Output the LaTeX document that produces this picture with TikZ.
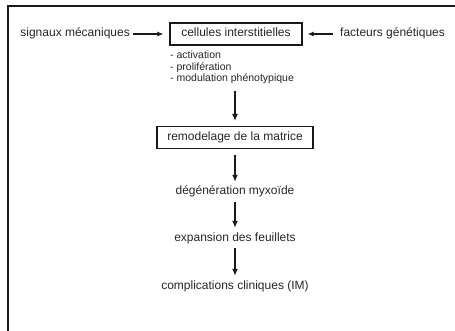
\documentclass[tikz,border=0pt]{standalone}
\usepackage{fontspec}
\setmainfont{Liberation Sans}
\usetikzlibrary{arrows.meta}
\begin{document}
\begin{tikzpicture}[x=1pt,y=-1pt,
  txt/.style={inner sep=0pt, font=\fontsize{12}{14}\selectfont, text=black!85, text height=9pt, text depth=3pt},
  boxed/.style={txt, draw=black!90, line width=1.2pt, minimum height=22pt},
  vflow/.style={-{Latex[length=7pt,width=6pt]}, line width=1.8pt, draw=black!90},
  hflow/.style={-{Latex[length=6pt,width=5pt]}, line width=1.1pt, draw=black!90}]
\useasboundingbox (0,0) rectangle (455,331);
\draw[line width=2.2pt, black!90] (8,332) -- (8,6) -- (456,6);

\node[boxed, minimum width=132pt] (cell) at (236,34) {cellules interstitielles};
\node[txt, anchor=east] (sig) at (130,34) {signaux mécaniques};
\node[txt, anchor=west] (fac) at (340,34) {facteurs génétiques};
\draw[hflow, shorten <=3pt, shorten >=6pt] (sig) -- (cell);
\draw[hflow, shorten <=7pt, shorten >=5pt] (fac) -- (cell);

\node[inner sep=0pt, anchor=north west, align=left, text=black!85,
      font=\fontsize{10.5}{11.5}\selectfont] (list) at (170,51)
  {- activation\\- prolifération\\- modulation phénotypique};

\node[boxed, minimum width=156pt] (rem) at (235,137.5) {remodelage de la matrice};
\node[txt] (deg) at (235,192) {dégénération myxoïde};
\node[txt] (exp) at (235,238) {expansion des feuillets};
\node[txt] (comp) at (235,286) {complications cliniques (IM)};

\draw[vflow, shorten <=6.5pt, shorten >=5pt] (list.south -| rem.north) -- (rem.north);
\draw[vflow, shorten <=6pt, shorten >=4pt] (rem) -- (deg);
\draw[vflow, shorten <=4pt, shorten >=4pt] (deg) -- (exp);
\draw[vflow, shorten <=4pt, shorten >=4pt] (exp) -- (comp);
\end{tikzpicture}
\end{document}
